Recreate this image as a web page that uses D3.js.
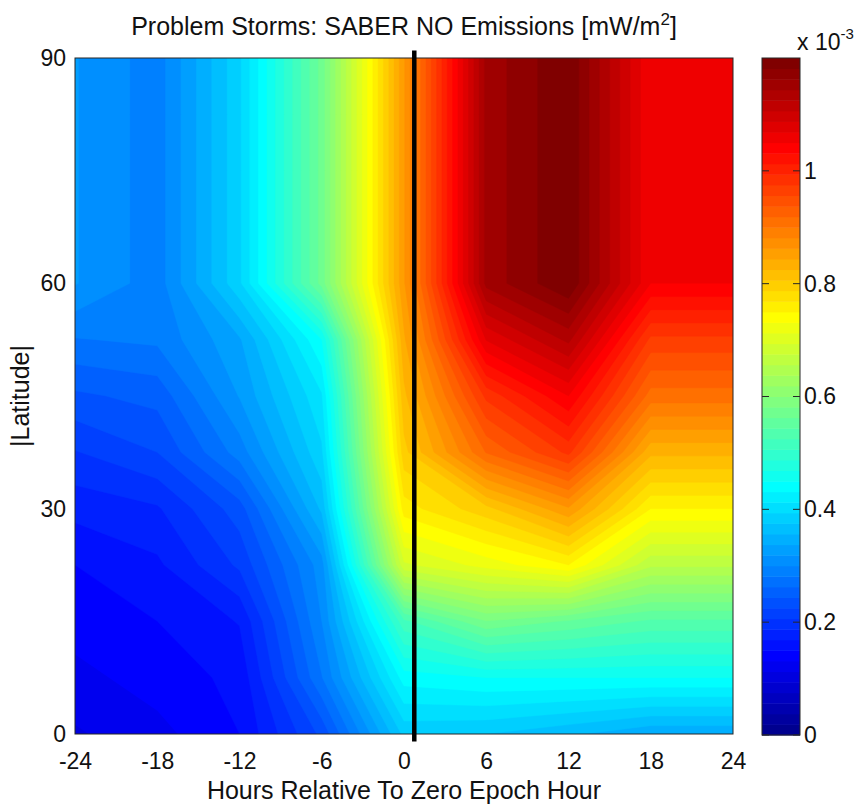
<!DOCTYPE html>
<html>
<head>
<meta charset="utf-8">
<script src="https://cdn.jsdelivr.net/npm/d3@7"></script>
<style>
  body { margin: 0; background: #fff; }
  text { font-family: "Liberation Sans", Arial, sans-serif; fill: #111; }
</style>
</head>
<body>
<svg id="chart" width="862" height="806"></svg>
<script>
'use strict'

var hours = [-24, -18, -12, -6, 0, 6, 12, 18, 24],
    lats = [0, 7.5, 15, 22.5, 30, 37.5, 45, 52.5, 60, 67.5, 75, 82.5, 90];

// NO emission (x 1e-3 mW/m^2), one row per |latitude|, one column per hour
var emission = [
  [0.11, 0.125, 0.15, 0.23, 0.38, 0.375, 0.36, 0.34, 0.34],
  [0.125, 0.14, 0.155, 0.28, 0.44, 0.45, 0.45, 0.45, 0.45],
  [0.14, 0.15, 0.17, 0.30, 0.52, 0.58, 0.56, 0.54, 0.54],
  [0.15, 0.165, 0.21, 0.31, 0.69, 0.72, 0.75, 0.66, 0.66],
  [0.175, 0.185, 0.235, 0.36, 0.76, 0.80, 0.86, 0.75, 0.75],
  [0.205, 0.225, 0.29, 0.39, 0.80, 0.92, 0.98, 0.83, 0.83],
  [0.24, 0.25, 0.32, 0.41, 0.82, 0.98, 1.05, 0.91, 0.91],
  [0.28, 0.285, 0.335, 0.45, 0.84, 1.07, 1.13, 0.97, 0.97],
  [0.32, 0.29, 0.39, 0.57, 0.86, 1.15, 1.20, 1.05, 1.05],
  [0.32, 0.29, 0.39, 0.57, 0.86, 1.15, 1.20, 1.05, 1.05],
  [0.32, 0.29, 0.39, 0.57, 0.86, 1.15, 1.20, 1.05, 1.05],
  [0.32, 0.29, 0.39, 0.57, 0.86, 1.15, 1.20, 1.05, 1.05],
  [0.32, 0.29, 0.39, 0.57, 0.86, 1.15, 1.20, 1.05, 1.05]
];

var xTicks = [-24, -18, -12, -6, 0, 6, 12, 18, 24],
    yTicks = [0, 30, 60, 90],
    cbTicks = [0, 0.2, 0.4, 0.6, 0.8, 1],
    cLimits = [0, 1.2],
    epochHour = [0.75, 0.75],
    epochLat = [-1, 91];

var nColors = 64;

// matlab jet(m)
function jet(m) {
  var n = Math.ceil(m / 4), u = [], cmap = [], i;
  for (i = 1; i <= n; i++) u.push(i / n);
  for (i = 1; i < n; i++) u.push(1);
  for (i = n; i >= 1; i--) u.push(i / n);
  var g0 = Math.ceil(n / 2) - (m % 4 === 1 ? 1 : 0);
  for (i = 0; i < m; i++) cmap.push([0, 0, 0]);
  u.forEach(function(v, k) {
    var g = g0 + k + 1, r = g + n, b = g - n;
    if (r >= 1 && r <= m) cmap[r - 1][0] = v;
    if (g >= 1 && g <= m) cmap[g - 1][1] = v;
    if (b >= 1 && b <= m) cmap[b - 1][2] = v;
  });
  return cmap.map(function(c) { return d3.rgb(c[0] * 255, c[1] * 255, c[2] * 255).toString(); });
}

var svg = d3.select("#chart");

var x = d3.scaleLinear().domain([-24, 24]).range([75, 733]),
    y = d3.scaleLinear().domain([0, 90]).range([734, 58]),
    cy = d3.scaleLinear().domain(cLimits).range([735, 58]),
    color = d3.scaleQuantize().domain(cLimits).range(jet(nColors));

var n = hours.length, m = lats.length;
var values = [].concat.apply([], emission);
var step = (cLimits[1] - cLimits[0]) / nColors;
var levels = d3.range(nColors).map(function(i) { return cLimits[0] + i * step; });

var contours = d3.contours().size([n, m]).thresholds(levels)(values);

// grid coords from d3.contours -> pixels
var gx = d3.scaleLinear().domain([0.5, n - 0.5]).range([x(hours[0]), x(hours[n - 1])]).clamp(true),
    gy = d3.scaleLinear().domain([0.5, m - 0.5]).range([y(lats[0]), y(lats[m - 1])]).clamp(true);

var path = d3.geoPath(d3.geoTransform({
  point: function(px, py) { this.stream.point(gx(px), gy(py)); }
}));

svg.append("clipPath").attr("id", "plotclip")
  .append("rect")
    .attr("x", x.range()[0]).attr("y", y.range()[1])
    .attr("width", x.range()[1] - x.range()[0])
    .attr("height", y.range()[0] - y.range()[1]);

svg.append("g")
    .attr("clip-path", "url(#plotclip)")
  .selectAll("path")
  .data(contours)
  .enter().append("path")
    .attr("d", path)
    .attr("fill", function(d) { return color(d.value + step / 2); })
    .attr("stroke", function(d) { return color(d.value + step / 2); })
    .attr("stroke-width", 0.4);

// box
svg.append("rect")
    .attr("x", x.range()[0]).attr("y", y.range()[1])
    .attr("width", x.range()[1] - x.range()[0])
    .attr("height", y.range()[0] - y.range()[1])
    .attr("fill", "none")
    .attr("stroke", "#262626");

// epoch line
svg.append("line")
    .attr("x1", x(epochHour[0])).attr("x2", x(epochHour[1]))
    .attr("y1", y(epochLat[0])).attr("y2", y(epochLat[1]))
    .attr("stroke", "#000")
    .attr("stroke-width", 4.5);

var xAxis = svg.append("g")
    .attr("transform", "translate(0," + y.range()[0] + ")")
    .call(d3.axisBottom(x).tickValues(xTicks).tickSize(0).tickPadding(19)
      .tickFormat(function(d) { return String(d); }));

var yAxis = svg.append("g")
    .attr("transform", "translate(" + x.range()[0] + ",0)")
    .call(d3.axisLeft(y).tickValues(yTicks).tickSize(0).tickPadding(9)
      .tickFormat(function(d) { return String(d); }));

[xAxis, yAxis].forEach(function(a) {
  a.select(".domain").remove();
  a.selectAll("text").style("font-size", "23px").style("font-family", null).attr("fill", null);
});

svg.append("text")
    .attr("x", (x.range()[0] + x.range()[1]) / 2)
    .attr("y", 799)
    .attr("text-anchor", "middle")
    .style("font-size", "25px")
    .text("Hours Relative To Zero Epoch Hour");

svg.append("text")
    .attr("transform", "translate(29," + (y.range()[0] + y.range()[1]) / 2 + ") rotate(-90)")
    .attr("text-anchor", "middle")
    .style("font-size", "25px")
    .text("|Latitude|");

var title = svg.append("text")
    .attr("x", (x.range()[0] + x.range()[1]) / 2)
    .attr("y", 35)
    .attr("text-anchor", "middle")
    .style("font-size", "25px");
title.append("tspan").text("Problem Storms: SABER NO Emissions [mW/m");
title.append("tspan").attr("dy", -10).style("font-size", "17px").text("2");
title.append("tspan").attr("dy", 10).text("]");

// colorbar
var cb = svg.append("g");
var cbX = [762, 800];

cb.selectAll("rect")
  .data(levels)
  .enter().append("rect")
    .attr("x", cbX[0])
    .attr("width", cbX[1] - cbX[0])
    .attr("y", function(d) { return cy(d + step); })
    .attr("height", function(d) { return cy(d) - cy(d + step) + 0.5; })
    .attr("fill", function(d) { return color(d + step / 2); });

cb.append("rect")
    .attr("x", cbX[0]).attr("y", cy.range()[1])
    .attr("width", cbX[1] - cbX[0])
    .attr("height", cy.range()[0] - cy.range()[1])
    .attr("fill", "none")
    .attr("stroke", "#262626");

cb.selectAll("path.cbtick")
  .data(cbTicks)
  .enter().append("path")
    .attr("class", "cbtick")
    .attr("d", function(d) {
      return "M" + cbX[0] + "," + cy(d) + "h7M" + cbX[1] + "," + cy(d) + "h-7";
    })
    .attr("stroke", "#262626");

var cAxis = cb.append("g")
    .attr("transform", "translate(" + cbX[1] + ",0)")
    .call(d3.axisRight(cy).tickValues(cbTicks).tickSize(0).tickPadding(4)
      .tickFormat(function(d) { return String(d); }));
cAxis.select(".domain").remove();
cAxis.selectAll("text").style("font-size", "23px").style("font-family", null).attr("fill", null);

var expo = svg.append("text")
    .attr("x", 797)
    .attr("y", 50)
    .style("font-size", "23px");
expo.append("tspan").text("x 10");
expo.append("tspan").attr("dy", -11).style("font-size", "15px").text("-3");
</script>
</body>
</html>
